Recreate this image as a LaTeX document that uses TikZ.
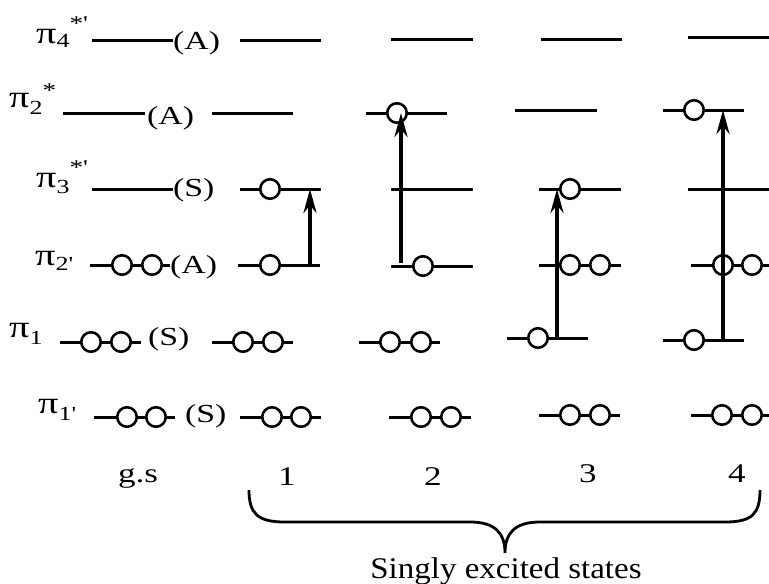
\documentclass[tikz,border=0pt]{standalone}
\usepackage{fontspec}
\newfontfamily\labfont{Liberation Serif}[FakeStretch=1.3]
\newfontfamily\bottomfont{Liberation Serif}[FakeStretch=1.1]
\usetikzlibrary{arrows.meta}
\newcommand\pisym{{\fontsize{31}{31}\selectfont π}}
\newcommand\pisub[2]{\raisebox{-#1pt}{\fontsize{20}{20}\selectfont #2}}
\newcommand\pisup[2]{\raisebox{#1pt}{\fontsize{21}{21}\selectfont #2}}
\begin{document}
\begin{tikzpicture}[x=1pt,y=-1pt,
  lvl/.style={line width=3pt},
  elec/.style={circle,draw,fill=white,line width=2.6pt,minimum size=19.5pt,inner sep=0pt},
  arr/.style={line width=3.6pt,-{Stealth[length=24pt,width=13pt]}},
  lab/.style={font=\labfont\fontsize{26}{30}\selectfont,inner sep=0pt,anchor=base west},
  num/.style={font=\labfont\fontsize{27}{30}\selectfont,inner sep=0pt,anchor=base},
  brace/.style={line width=2.8pt}
]
\useasboundingbox (0,0) rectangle (769,584);

% energy levels
\foreach \xa/\xb/\yy [count=\i] in {
  92/173/40, 63/145/113, 92/173/189, 90/170/265, 60/141/342, 94/175/417,
  240/321/40, 212/293/113, 240/321/189, 238/320/265, 212/293/342, 240/321/417,
  391/473/39, 366/447/113, 391/473/189, 391/473/266, 359/440/342, 389/471/417,
  541/622/39, 515/597/110, 539/621/189, 539/621/265, 507/588/338, 539/620/415,
  688/769/37, 663/744/110, 688/769/189, 691/769/265, 663/744/340, 691/769/415}
{
  \coordinate (L\i a) at (\xa,\yy);
  \coordinate (L\i b) at (\xb,\yy);
  \draw[lvl] (L\i a) -- (L\i b);
}

% electrons
\foreach \cx/\cy [count=\i] in {
  122/265, 152/265, 91/342, 121/342, 127/417, 156/417,
  270/189, 270/265, 243/342, 273/342, 272/417, 301/417,
  397/113, 423/266, 390/342, 421/342, 421/417, 451/417,
  570/189, 570/265, 600/265, 538/338, 570/415, 600/415,
  694/110, 723/265, 752/265, 694/340, 722/415, 752/415}
{
  \node[elec] (e\i) at (\cx,\cy) {};
}

% excitation arrows
\coordinate (a1s) at (310,265); \coordinate (a1e) at (310,189);
\coordinate (a2s) at (401,263); \coordinate (a2e) at (401,113);
\coordinate (a3s) at (557,338); \coordinate (a3e) at (557,189);
\coordinate (a4s) at (723,340); \coordinate (a4e) at (723,110);
\draw[arr] (a1s) -- (a1e);
\draw[arr] (a2s) -- (a2e);
\draw[arr] (a3s) -- (a3e);
\draw[arr] (a4s) -- (a4e);

% orbital names
\node[lab] (p4) at (36,43) {\pisym\pisub{4}{4}\pisup{13}{*'}};
\node[lab] (p2s) at (9,107) {\pisym\pisub{7}{2}\pisup{10}{*}};
\node[lab] (p3) at (36,187) {\pisym\pisub{6}{3}\pisup{13}{*'}};
\node[lab] (p2p) at (35,265) {\pisym\pisub{5}{2'}};
\node[lab] (p1) at (9,337) {\pisym\pisub{7}{1}};
\node[lab] (p1p) at (38,413) {\pisym\pisub{7}{1'}};

% symmetry labels
\node[lab] (s4) at (173,49) {(A)};
\node[lab] (s2s) at (147,124) {(A)};
\node[lab] (s3) at (173,196) {(S)};
\node[lab] (s2p) at (170,273) {(A)};
\node[lab] (s1) at (148,345) {(S)};
\node[lab] (s1p) at (185,422) {(S)};

% column labels
\node[num] (gs) at (138,482) {g.s};
\node[num] (n1) at (287,485) {1};
\node[num] (n2) at (433,485) {2};
\node[num] (n3) at (588,482) {3};
\node[num] (n4) at (737,482) {4};

% brace
\coordinate (bl) at (249,490);
\coordinate (bt) at (505,553);
\coordinate (br) at (760,490);
\draw[brace] (bl) .. controls (249,514) and (258,522) .. (285,522)
  -- (470,522) .. controls (495,522) and (505,533) .. (bt)
  .. controls (505,533) and (515,522) .. (540,522)
  -- (725,522) .. controls (752,522) and (760,514) .. (br);

\node[font=\bottomfont\fontsize{30}{36}\selectfont,inner sep=0pt,anchor=base] (ses) at (506,578) {Singly excited states};
\end{tikzpicture}
\end{document}
